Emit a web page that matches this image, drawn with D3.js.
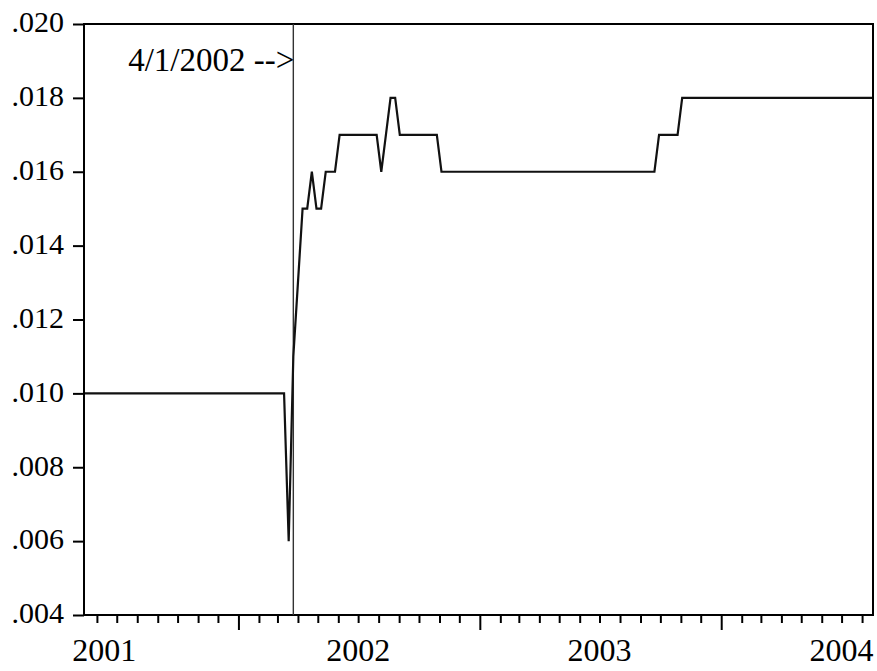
<!DOCTYPE html>
<html><head><meta charset="utf-8">
<script src="https://cdn.jsdelivr.net/npm/d3@7"></script>
<style>
body{margin:0;background:#fff}
svg{display:block}
text{font-family:"Liberation Serif","Times New Roman",serif;fill:#000}
</style>
</head><body><svg id="c" width="877" height="671"></svg>
<script>
// ---- data (weekly observations) ----
const startDate = "2001-05-14";
const values = [
  0.010,0.010,0.010,0.010,0.010,0.010,0.010,0.010,0.010,0.010,
  0.010,0.010,0.010,0.010,0.010,0.010,0.010,0.010,0.010,0.010,
  0.010,0.010,0.010,0.010,0.010,0.010,0.010,0.010,0.010,0.010,
  0.010,0.010,0.010,0.010,0.010,0.010,0.010,0.010,0.010,0.010,
  0.010,0.010,0.010,0.010,
  0.006,0.011,0.013,0.015,0.015,0.016,0.015,0.015,0.016,0.016,0.016,
  0.017,0.017,0.017,0.017,0.017,0.017,0.017,0.017,0.017,
  0.016,0.017,0.018,0.018,
  0.017,0.017,0.017,0.017,0.017,0.017,0.017,0.017,0.017,
  0.016,0.016,0.016,0.016,0.016,0.016,0.016,0.016,0.016,0.016,
  0.016,0.016,0.016,0.016,0.016,0.016,0.016,0.016,0.016,0.016,
  0.016,0.016,0.016,0.016,0.016,0.016,0.016,0.016,0.016,0.016,
  0.016,0.016,0.016,0.016,0.016,0.016,0.016,0.016,0.016,0.016,
  0.016,0.016,0.016,0.016,0.016,0.016,0.016,
  0.017,0.017,0.017,0.017,0.017,
  0.018,0.018,0.018,0.018,0.018,0.018,0.018,0.018,0.018,0.018,
  0.018,0.018,0.018,0.018,0.018,0.018,0.018,0.018,0.018,0.018,
  0.018,0.018,0.018,0.018,0.018,0.018,0.018,0.018,0.018,0.018,
  0.018,0.018,0.018,0.018,0.018,0.018,0.018,0.018,0.018,0.018,
  0.018,0.018
];
const yTickValues = [0.004,0.006,0.008,0.010,0.012,0.014,0.016,0.018,0.020];
const yTickLabels = [".004",".006",".008",".010",".012",".014",".016",".018",".020"];
const xYearLabels = ["2001","2002","2003","2004"];
const xYearLabelDates = ["2001-06-12","2002-07-01","2003-07-01","2004-07-01"];
const markerDate = "2002-03-25";
const markerText = "4/1/2002 -->";

// ---- setup ----
const parse = d3.utcParse("%Y-%m-%d");
const t0 = parse(startDate);
const dates = values.map((v,i) => d3.utcDay.offset(t0, 7*i));
const data = values.map((v,i) => ({date: dates[i], value: v}));

const plotL = 84, plotR = 873, plotT = 24, plotB = 615;
const svg = d3.select("#c");

const x = d3.scaleUtc().domain([dates[0], dates[dates.length-1]]).range([85, 872]);
const y = d3.scaleLinear().domain([0.004, 0.020]).range([plotB, plotT]);

// y axis
const yAxis = d3.axisLeft(y).tickValues(yTickValues)
  .tickFormat((d,i) => yTickLabels[i]).tickSize(11).tickPadding(9).tickSizeOuter(0);
const gy = svg.append("g").attr("transform", `translate(${plotL},0)`).call(yAxis);
gy.select(".domain").remove();
gy.selectAll(".tick line").attr("stroke","#000").attr("stroke-width",2);
gy.selectAll(".tick text").attr("font-size", 30).attr("dy","0.26em")
  .style("font-family",'"Liberation Serif","Times New Roman",serif');

// x axis: monthly ticks, long ticks at year starts
const months = d3.utcMonth.range(d3.utcMonth.ceil(x.domain()[0]), x.domain()[1]);
const xAxis = d3.axisBottom(x).tickValues(months).tickFormat("").tickSize(7).tickSizeOuter(0);
const gx = svg.append("g").attr("transform", `translate(0,${plotB})`).call(xAxis);
gx.select(".domain").remove();
gx.selectAll(".tick line").attr("stroke","#000").attr("stroke-width",2)
  .attr("y2", d => d.getUTCMonth() === 0 ? 15 : 8);

// year labels
svg.append("g").selectAll("text").data(xYearLabels).join("text")
  .attr("x", (d,i) => x(parse(xYearLabelDates[i])))
  .attr("y", 661)
  .attr("text-anchor","middle")
  .attr("font-size", 32)
  .text(d => d);

// frame
svg.append("rect").attr("x", plotL).attr("y", plotT)
  .attr("width", plotR-plotL).attr("height", plotB-plotT)
  .attr("fill","none").attr("stroke","#000").attr("stroke-width",2);

// marker line
const mx = x(parse(markerDate));
svg.append("line").attr("x1", mx).attr("x2", mx).attr("y1", plotT).attr("y2", plotB)
  .attr("stroke","#333").attr("stroke-width",1.4);
svg.append("text").attr("x", mx + 1).attr("y", 71)
  .attr("text-anchor","end").attr("font-size", 33).text(markerText);

// series line
const line = d3.line().x(d => x(d.date)).y(d => y(d.value));
svg.append("path").datum(data).attr("d", line)
  .attr("fill","none").attr("stroke","#111").attr("stroke-width",2.2)
  .attr("stroke-linejoin","miter");
</script>
</body></html>
